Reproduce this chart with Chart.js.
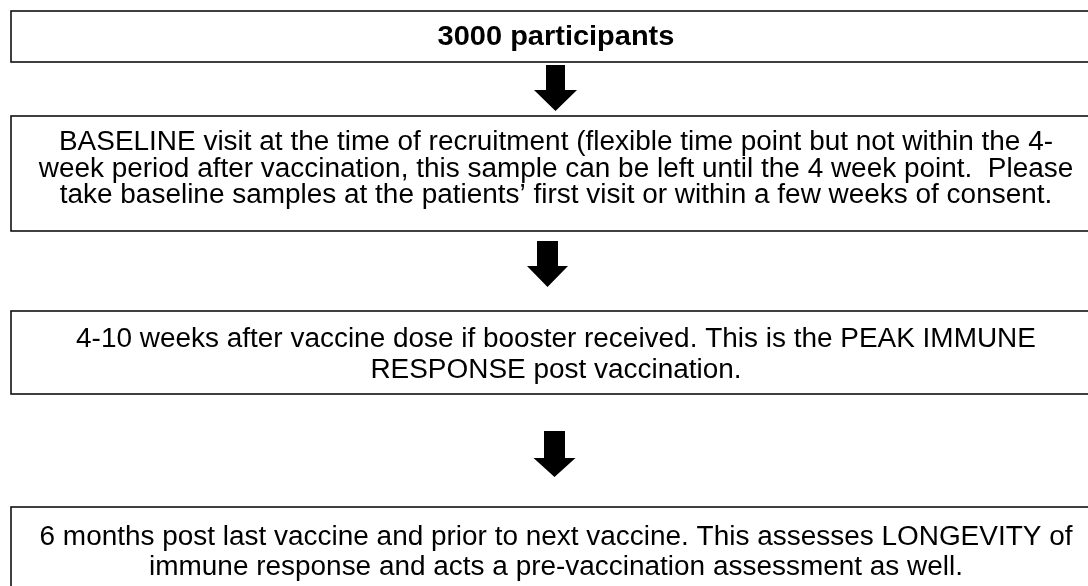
<!DOCTYPE html>
<html>
<head>
<meta charset="utf-8">
<style>
  html, body { margin: 0; padding: 0; background: #fff; }
  #wrap { position: relative; width: 1088px; height: 586px; }
</style>
</head>
<body>
<div id="wrap"><canvas id="flow" width="1088" height="586"></canvas></div>

<script src="https://cdn.jsdelivr.net/npm/chart.js@4.4.1/dist/chart.umd.min.js"></script>
<script>
// step texts, one array of lines per box
const stepTitle = ['3000 participants'];
const stepBaseline = [
  'BASELINE visit at the time of recruitment (flexible time point but not within the 4-',
  'week period after vaccination, this sample can be left until the 4 week point.  Please',
  'take baseline samples at the patients\u2019 first visit or within a few weeks of consent.'
];
const stepPeak = [
  '4-10 weeks after vaccine dose if booster received. This is the PEAK IMMUNE',
  'RESPONSE post vaccination.'
];
const stepLongevity = [
  '6 months post last vaccine and prior to next vaccine. This assesses LONGEVITY of',
  'immune response and acts a pre-vaccination assessment as well.'
];

// layout (diagram units = pixels of the 1088x586 frame)
const boxes = [
  { lines: stepTitle, top: 11, bottom: 62, bold: true, first: 45, gap: 0 },
  { lines: stepBaseline, top: 116, bottom: 231, bold: false, first: 150, gap: 26.5 },
  { lines: stepPeak, top: 311, bottom: 394, bold: false, first: 347, gap: 31 },
  { lines: stepLongevity, top: 507, bottom: 610, bold: false, first: 545, gap: 30 }
];
const boxLeft = 11, boxRight = 1100, textX = 556;

const arrows = [
  { x: 555.5, top: 65, neck: 90, tip: 111, shaft: 9.5, head: 21.5 },
  { x: 547.5, top: 241, neck: 266, tip: 287, shaft: 10.5, head: 20.5 },
  { x: 554.5, top: 431, neck: 458, tip: 477, shaft: 10.5, head: 21 }
];

const flowPlugin = {
  id: 'flow',
  afterDraw(chart) {
    const ctx = chart.ctx;
    const xs = chart.scales.x, ys = chart.scales.y;
    const px = v => xs.getPixelForValue(v);
    const py = v => ys.getPixelForValue(v);
    const stretch = 1.035;
    ctx.save();

    boxes.forEach(b => {
      ctx.strokeStyle = '#111';
      ctx.lineWidth = 1.6;
      ctx.strokeRect(px(boxLeft), py(b.top), px(boxRight) - px(boxLeft), py(b.bottom) - py(b.top));
      ctx.fillStyle = '#000';
      ctx.textAlign = 'center';
      ctx.textBaseline = 'alphabetic';
      ctx.font = b.bold ? 'bold 28px "Liberation Sans", Arial, sans-serif'
                        : '27px "Liberation Sans", Arial, sans-serif';
      b.lines.forEach((t, i) => {
        ctx.save();
        ctx.translate(px(textX), py(b.first + i * b.gap));
        ctx.scale(stretch, 1);
        ctx.fillText(t, 0, 0);
        ctx.restore();
      });
    });

    arrows.forEach(a => {
      ctx.fillStyle = '#000';
      ctx.beginPath();
      ctx.moveTo(px(a.x - a.shaft), py(a.top));
      ctx.lineTo(px(a.x + a.shaft), py(a.top));
      ctx.lineTo(px(a.x + a.shaft), py(a.neck));
      ctx.lineTo(px(a.x + a.head), py(a.neck));
      ctx.lineTo(px(a.x), py(a.tip));
      ctx.lineTo(px(a.x - a.head), py(a.neck));
      ctx.lineTo(px(a.x - a.shaft), py(a.neck));
      ctx.closePath();
      ctx.fill();
    });
    ctx.restore();
  }
};

new Chart(document.getElementById('flow'), {
  type: 'scatter',
  data: { datasets: [{ data: [], showLine: false }] },
  options: {
    responsive: false,
    animation: false,
    devicePixelRatio: 1,
    layout: { padding: 0 },
    plugins: { legend: { display: false }, tooltip: { enabled: false } },
    scales: {
      x: { type: 'linear', min: 0, max: 1088, display: false },
      y: { type: 'linear', min: 0, max: 586, reverse: true, display: false }
    }
  },
  plugins: [flowPlugin]
});
</script>
</body>
</html>
